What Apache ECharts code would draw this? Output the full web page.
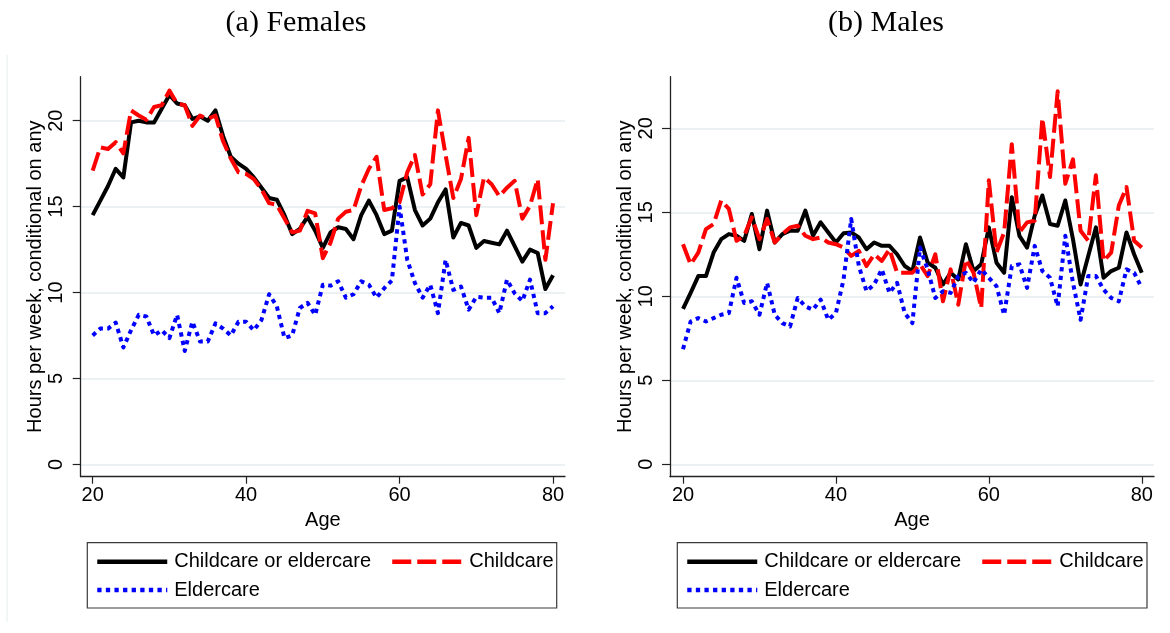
<!DOCTYPE html>
<html>
<head>
<meta charset="utf-8">
<script src="https://cdn.jsdelivr.net/npm/echarts@6/dist/echarts.min.js"></script>
<style>
  html, body { margin: 0; padding: 0; background: #ffffff; }
  #chart { width: 1170px; height: 633px; }
</style>
</head>
<body>
<div id="chart"></div>
<script>
// ---- Data ----
const ages = [20,21,22,23,24,25,26,27,28,29,30,31,32,33,34,35,36,37,38,39,40,
  41,42,43,44,45,46,47,48,49,50,51,52,53,54,55,56,57,58,59,60,
  61,62,63,64,65,66,67,68,69,70,71,72,73,74,75,76,77,78,79,80];

const femaleAny = [14.5,15.35,16.2,17.2,16.7,19.9,20.0,19.9,19.9,20.7,21.5,
  21.0,20.9,20.1,20.25,20.0,20.6,19.1,17.9,17.5,17.2,
  16.7,16.1,15.5,15.4,14.5,13.4,13.7,14.4,13.6,12.6,
  13.5,13.8,13.7,13.1,14.5,15.35,14.5,13.4,13.6,16.5,
  16.7,14.8,13.9,14.3,15.25,16.0,13.2,14.05,13.9,12.6,
  13.0,12.9,12.8,13.6,12.7,11.8,12.5,12.3,10.2,11.0];

const femaleChild = [17.1,18.45,18.35,18.75,18.1,20.6,20.3,20.05,20.8,20.9,21.75,
  21.0,20.9,19.7,20.3,20.1,20.3,18.8,17.8,17.0,16.9,
  16.6,16.0,15.2,15.1,14.3,13.5,13.6,14.75,14.6,12.0,
  12.9,14.3,14.7,14.8,16.2,17.2,17.9,14.8,14.9,15.25,
  17.0,18.0,15.7,16.3,20.6,18.0,15.5,16.6,19.0,14.5,
  16.7,16.3,15.6,16.1,16.5,14.3,15.05,16.6,11.9,15.2];

const femaleElder = [7.5,7.9,7.9,8.25,6.8,7.8,8.7,8.6,7.5,7.8,7.35,
  8.7,6.6,8.3,7.15,7.15,8.2,7.9,7.5,8.3,8.3,
  7.8,8.4,9.9,9.2,7.35,7.5,9.1,9.4,8.7,10.45,
  10.4,10.65,9.7,9.9,10.65,10.45,9.7,10.25,10.7,15.0,
  11.9,10.55,9.7,10.45,8.8,11.9,10.15,10.35,9.0,9.75,
  9.7,9.7,8.8,10.75,9.95,9.5,10.75,8.8,8.8,9.2];

const maleAny = [9.25,10.2,11.2,11.2,12.6,13.4,13.7,13.6,13.3,14.9,12.8,
  15.1,13.2,13.7,13.9,13.9,15.1,13.6,14.4,13.8,13.2,
  13.75,13.8,13.5,12.8,13.2,13.0,13.0,12.5,11.8,11.5,
  13.5,12.0,11.7,10.7,11.4,11.0,13.1,11.5,11.9,14.1,
  12.0,11.4,15.9,13.6,12.9,14.8,16.0,14.3,14.2,15.7,
  13.4,10.7,12.4,14.1,11.1,11.5,11.7,13.8,12.5,11.4];

const maleChild = [13.1,11.9,12.6,14.0,14.3,15.7,15.2,13.3,13.6,14.7,13.4,
  14.6,13.2,13.7,14.1,14.2,13.6,13.4,13.5,13.2,13.1,
  12.9,12.4,12.7,11.8,12.5,12.1,12.8,11.4,11.4,11.4,
  11.9,11.2,12.5,9.7,11.6,9.5,12.2,11.4,9.3,16.9,
  12.6,13.8,19.05,13.8,14.4,14.5,20.6,17.1,22.2,16.7,
  18.15,13.9,13.3,17.2,12.1,12.6,15.4,16.5,13.3,12.9];

const maleElder = [6.85,8.5,8.7,8.5,8.7,8.9,9.0,11.1,9.6,9.7,8.9,
  10.8,8.9,8.4,8.2,9.9,9.4,9.2,9.8,8.6,9.0,
  11.0,14.6,11.8,10.3,10.7,11.6,10.2,10.8,9.0,8.4,
  12.9,11.6,9.9,10.3,10.2,11.2,11.4,10.8,11.6,11.1,
  10.6,8.9,11.8,11.9,10.5,13.0,11.5,11.1,9.4,13.6,
  10.8,8.6,11.2,11.2,10.4,9.9,9.7,11.6,11.4,10.5];

const xTicks = [20, 40, 60, 80];
const yTicks = [0, 5, 10, 15, 20];
const seriesNames = ['Childcare or eldercare', 'Childcare', 'Eldercare'];
const panelTitles = ['(a) Females', '(b) Males'];
const yTitle = 'Hours per week, conditional on any';
const xTitle = 'Age';

// ---- Build chart ----
const SANS = 'Liberation Sans, Arial, Helvetica, sans-serif';
const SERIF = 'Liberation Serif, Times New Roman, serif';
const GRID_COL = '#e6eef0';
const FS = 20;

function pairs(vals) { return ages.map((a, i) => [a, vals[i]]); }

const lineStyles = [
  { color: '#000000', width: 4, type: 'solid' },
  { color: '#ff0000', width: 4, type: [19, 6] },
  { color: '#0000ff', width: 4, type: [4.3, 4.3] }
];

function makeSeries(idx, vals, name, styleIdx) {
  const ls = lineStyles[styleIdx];
  return {
    type: 'line', name: name, xAxisIndex: idx, yAxisIndex: idx,
    data: pairs(vals), symbol: 'none', showSymbol: false,
    clip: false, animation: false,
    lineStyle: { color: ls.color, width: ls.width, type: ls.type, cap: 'butt', join: 'round' },
    itemStyle: { color: ls.color },
    emphasis: { disabled: true }
  };
}

function xAxisFor(idx, min, max) {
  return {
    type: 'value', gridIndex: idx, min: min, max: max,
    name: xTitle, nameLocation: 'middle', nameGap: 31,
    nameTextStyle: { fontFamily: SANS, fontSize: FS, color: '#000' },
    axisLine: { show: true, onZero: false, lineStyle: { color: '#222', width: 1.3 } },
    axisTick: { show: true, length: 7, customValues: xTicks, lineStyle: { color: '#222', width: 1.2 } },
    axisLabel: { customValues: xTicks, margin: 9, fontFamily: SANS, fontSize: FS, color: '#000' },
    splitLine: { show: false }
  };
}

function yAxisFor(idx, min, max) {
  return {
    type: 'value', gridIndex: idx, min: min, max: max,
    name: yTitle, nameLocation: 'middle', nameGap: 33, nameRotate: 90,
    nameTextStyle: { fontFamily: SANS, fontSize: FS, color: '#000' },
    axisLine: { show: true, onZero: false, lineStyle: { color: '#222', width: 1.3 } },
    axisTick: { show: true, length: 8, customValues: yTicks, lineStyle: { color: '#222', width: 1.2 } },
    axisLabel: { customValues: yTicks, rotate: 90, margin: 14, fontFamily: SANS, fontSize: FS, color: '#000' },
    splitLine: { show: true, lineStyle: { color: GRID_COL, width: 1.5 } }
  };
}

function legendFor(left, top, name) {
  return {
    left: left, top: top, orient: 'horizontal', padding: 0,
    itemWidth: 70, itemHeight: 20, itemGap: 0,
    selectedMode: false,
    data: [name],
    itemStyle: { opacity: 0 },
    lineStyle: { width: 4.5 },
    textStyle: { fontFamily: SANS, fontSize: FS, color: '#000', padding: [0, 0, 0, 2] }
  };
}

const option = {
  backgroundColor: '#ffffff',
  animation: false,
  title: [
    { text: panelTitles[0], left: 296, top: 8, textAlign: 'center', padding: 0,
      textStyle: { fontFamily: SERIF, fontSize: 30, fontWeight: 'normal', color: '#000' } },
    { text: panelTitles[1], left: 886, top: 8, textAlign: 'center', padding: 0,
      textStyle: { fontFamily: SERIF, fontSize: 30, fontWeight: 'normal', color: '#000' } }
  ],
  grid: [
    { left: 80.7, top: 76.7, width: 484.3, height: 400, containLabel: false },
    { left: 670, top: 76.7, width: 484, height: 400, containLabel: false }
  ],
  xAxis: [ xAxisFor(0, 18.44, 81.56), xAxisFor(1, 18.3, 81.6) ],
  yAxis: [ yAxisFor(0, -0.72, 22.56), yAxisFor(1, -0.74, 23.07) ],
  legend: [
    legendFor(95, 551.7, seriesNames[0]),
    legendFor(390, 551.7, seriesNames[1]),
    legendFor(95, 580, seriesNames[2]),
    legendFor(685, 551.7, seriesNames[0]),
    legendFor(980, 551.7, seriesNames[1]),
    legendFor(685, 580, seriesNames[2])
  ],
  graphic: [
    { type: 'rect', silent: true, shape: { x: 87.3, y: 542.7, width: 469.4, height: 65.3 },
      style: { fill: 'none', stroke: '#3a3a3a', lineWidth: 1.2 } },
    { type: 'rect', silent: true, shape: { x: 677.3, y: 542.7, width: 469.7, height: 65.3 },
      style: { fill: 'none', stroke: '#3a3a3a', lineWidth: 1.2 } },
    { type: 'line', silent: true, shape: { x1: 7, y1: 55, x2: 7, y2: 622 },
      style: { stroke: '#e8eef0', lineWidth: 1 } }
  ],
  series: [
    makeSeries(0, femaleAny, seriesNames[0], 0),
    makeSeries(0, femaleChild, seriesNames[1], 1),
    makeSeries(0, femaleElder, seriesNames[2], 2),
    makeSeries(1, maleAny, seriesNames[0], 0),
    makeSeries(1, maleChild, seriesNames[1], 1),
    makeSeries(1, maleElder, seriesNames[2], 2)
  ]
};

const chart = echarts.init(document.getElementById('chart'), null, { renderer: 'canvas' });
chart.setOption(option);
</script>
</body>
</html>
